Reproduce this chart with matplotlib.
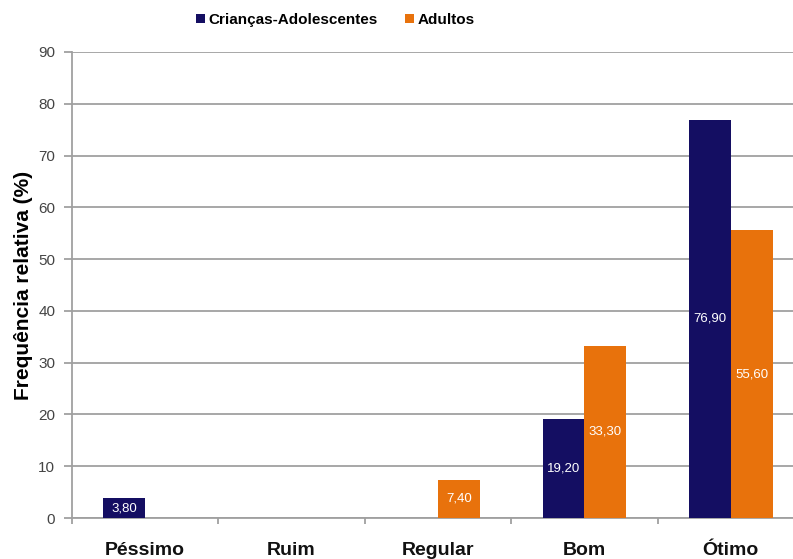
import matplotlib
matplotlib.use("Agg")
import matplotlib.pyplot as plt
import numpy as np

CATEGORIES = ["Péssimo", "Ruim", "Regular", "Bom", "Ótimo"]
CRIANCAS = [3.80, 0.0, 0.0, 19.20, 76.90]
ADULTOS = [0.0, 0.0, 7.40, 33.30, 55.60]
SERIES_NAMES = ["Crianças-Adolescentes", "Adultos"]
Y_TICKS = [0, 10, 20, 30, 40, 50, 60, 70, 80, 90]

NAVY = "#140E62"
ORANGE = "#E8720C"
GRID = "#A0A0A0"

plt.rcParams["font.family"] = ["Liberation Sans", "DejaVu Sans"]

fig = plt.figure(figsize=(7.93, 5.59), dpi=100)
ax = fig.add_axes([72 / 793, 41 / 559, 732 / 793, 466 / 559])

x = np.arange(len(CATEGORIES))
width = 0.285
bars_c = ax.bar(x - width / 2, CRIANCAS, width, color=NAVY, label=SERIES_NAMES[0], zorder=3)
bars_a = ax.bar(x + width / 2, ADULTOS, width, color=ORANGE, label=SERIES_NAMES[1], zorder=3)


def fmt(v):
    return f"{v:.2f}".replace(".", ",")


for bars, vals in ((bars_c, CRIANCAS), (bars_a, ADULTOS)):
    for b, v in zip(bars, vals):
        if v <= 0:
            continue
        ax.text(b.get_x() + b.get_width() / 2, v / 2, fmt(v), ha="center", va="center",
                color="white", fontsize=9.5, zorder=4)

ax.set_xlim(-0.5, len(CATEGORIES) - 0.5)
ax.set_ylim(0, 90)
ax.set_yticks(Y_TICKS)
ax.set_yticklabels([str(t) for t in Y_TICKS], fontsize=11, color="#444444")
ax.yaxis.grid(True, color=GRID, linewidth=1.3, zorder=0)
ax.set_axisbelow(True)

ax.set_xticks(x)
ax.set_xticklabels(CATEGORIES, fontsize=14, fontweight="bold", color="#111111")
ax.set_xticks(np.arange(len(CATEGORIES) + 1) - 0.5, minor=True)
ax.tick_params(axis="x", which="major", length=0, pad=17)
ax.tick_params(axis="x", which="minor", length=4, color=GRID, width=1.3)
ax.tick_params(axis="y", length=6, color=GRID, width=1.3, pad=6)

for side in ("top", "right"):
    ax.spines[side].set_visible(False)
for side in ("left", "bottom"):
    ax.spines[side].set_color(GRID)
    ax.spines[side].set_linewidth(1.3)

ax.set_ylabel("Frequência relativa (%)", fontsize=15, fontweight="bold", labelpad=4)

fig.legend(handles=[bars_c, bars_a], labels=SERIES_NAMES, loc="center",
           bbox_to_anchor=(0.423, 0.965), ncol=2, frameon=False,
           handlelength=0.55, handleheight=0.55, handletextpad=0.25, columnspacing=1.8,
           prop={"weight": "bold", "size": 11})

fig.savefig("out.png", dpi=100)
